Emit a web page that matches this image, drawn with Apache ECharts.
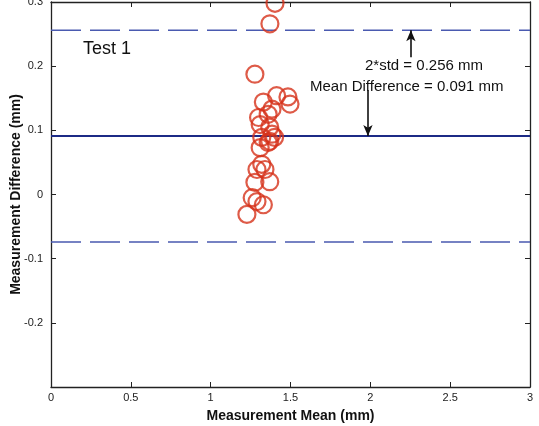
<!DOCTYPE html>
<html><head><meta charset="utf-8">
<script src="https://cdn.jsdelivr.net/npm/echarts@6/dist/echarts.min.js"></script>
<style>html,body{margin:0;padding:0;background:#fff}#c{width:539px;height:426px}</style>
</head><body><div id="c"></div>
<script>
const meanX = [1.403,1.371,1.277,1.413,1.484,1.497,1.33,1.384,1.30,1.36,1.31,1.37,1.384,1.32,1.37,1.40,1.36,1.31,1.32,1.34,1.29,1.37,1.277,1.26,1.29,1.33,1.227];
const diffY = [0.298,0.266,0.1875,0.154,0.152,0.141,0.144,0.133,0.12,0.125,0.109,0.105,0.094,0.089,0.083,0.089,0.081,0.073,0.047,0.039,0.039,0.02,0.019,-0.005,-0.011,-0.016,-0.031];
const meanDiff = 0.091;
const upperLimit = 0.256;
const lowerLimit = -0.074;
const xTicks = [0,0.5,1,1.5,2,2.5,3];
const yTicks = [-0.3,-0.2,-0.1,0,0.1,0.2,0.3];
const labelUpper = '2*std = 0.256 mm';
const labelMean = 'Mean Difference = 0.091 mm';
const titleText = 'Test 1';

const chart = echarts.init(document.getElementById('c'));
const font = 'Arial, "Liberation Sans", sans-serif';
const pts = meanX.map((x,i)=>[x,diffY[i]]);
const axisCommon = {
  axisLine:{show:true,onZero:false,lineStyle:{color:'#222',width:1.3}},
  axisTick:{show:true,inside:true,length:5,lineStyle:{color:'#222'}},
  splitLine:{show:false}
};
chart.setOption({
  animation:false,
  grid:{left:51,right:9,top:2,bottom:39,containLabel:false,outerBoundsMode:'none'},
  xAxis:[
    Object.assign({type:'value',min:0,max:3,interval:0.5,position:'bottom',
      name:'Measurement Mean (mm)',nameLocation:'middle',nameGap:22,nameMoveOverlap:false,
      nameTextStyle:{fontFamily:font,fontSize:14,fontWeight:'bold',color:'#111'},
      axisLabel:{fontFamily:font,fontSize:11,color:'#222',margin:5,
        formatter:v=>xTicks.includes(v)?String(v):''}},axisCommon),
    Object.assign({type:'value',min:0,max:3,interval:0.5,position:'top',axisLabel:{show:false}},axisCommon)
  ],
  yAxis:[
    Object.assign({type:'value',min:-0.3,max:0.3,interval:0.1,position:'left',
      name:'Measurement Difference (mm)',nameLocation:'middle',nameGap:28,nameMoveOverlap:false,
      nameTextStyle:{fontFamily:font,fontSize:14,fontWeight:'bold',color:'#111'},
      axisLabel:{fontFamily:font,fontSize:11,color:'#222',margin:8,
        formatter:v=>{const r=Math.round(v*10)/10; return (r<=-0.3)?'':String(r);}}},axisCommon),
    Object.assign({type:'value',min:-0.3,max:0.3,interval:0.1,position:'right',axisLabel:{show:false}},axisCommon)
  ],
  series:[
    {type:'line',data:[[0,upperLimit],[3,upperLimit]],symbol:'none',silent:true,
      lineStyle:{color:'#4a5ab0',width:1.4,type:[30,9]}},
    {type:'line',data:[[0,lowerLimit],[3,lowerLimit]],symbol:'none',silent:true,
      lineStyle:{color:'#4a5ab0',width:1.4,type:[30,9]}},
    {type:'line',data:[[0,meanDiff],[3,meanDiff]],symbol:'none',silent:true,
      lineStyle:{color:'#1c2a86',width:2}},
    {type:'scatter',data:pts,symbol:'circle',symbolSize:17,
      itemStyle:{color:'rgba(0,0,0,0)',borderColor:'#d6321a',borderWidth:2.2},z:5},
    {type:'line',data:[],silent:true,
      markLine:{silent:true,symbol:['none','arrow'],symbolSize:[7,11],
        lineStyle:{color:'#111',width:1.6,type:'solid'},label:{show:false},
        data:[
          [{coord:[2.254,0.214]},{coord:[2.254,upperLimit]}],
          [{coord:[1.985,0.163]},{coord:[1.985,meanDiff]}]
        ]}}
  ],
  graphic:[
    {type:'text',left:83,top:40,style:{text:titleText,font:'18px '+font,fill:'#111'}},
    {type:'text',left:365,top:58,style:{text:labelUpper,font:'15px '+font,fill:'#111'}},
    {type:'text',left:310,top:79,style:{text:labelMean,font:'15px '+font,fill:'#111'}}
  ]
});
</script></body></html>
